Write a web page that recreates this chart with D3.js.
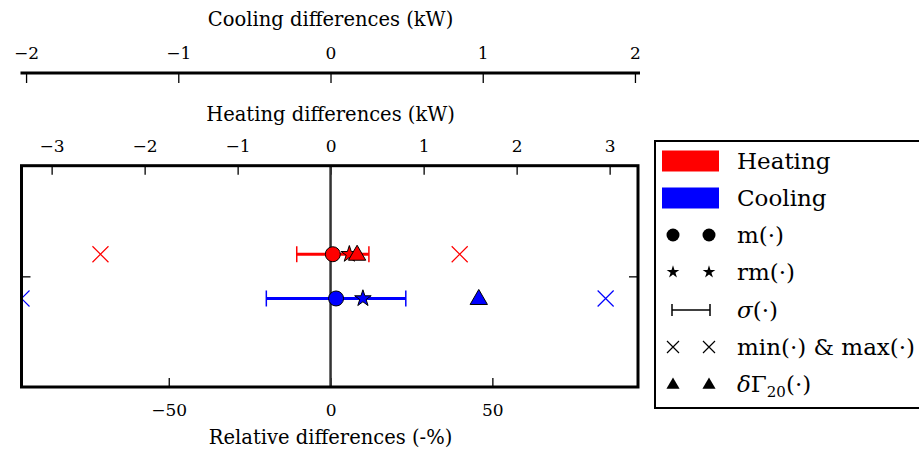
<!DOCTYPE html>
<html><head><meta charset="utf-8">
<script src="https://cdn.jsdelivr.net/npm/d3@7"></script>
<style>
body{margin:0;background:#fff;}
text{font-family:"DejaVu Serif",serif;fill:#000;}
</style></head>
<body><svg id="c" width="919" height="450"></svg>
<script>
// ---- data ----
const categories = ["Heating", "Cooling"];
const colors = ["#ff0000", "#0000ff"];
const rowY = [1, 0];
const meanVals = [0.7, 1.7];
const rmVals = [5.8, 10.0];
const sigmaVals = [11.15, 21.55];
const minVals = [-71.1, -95.5];
const maxVals = [39.9, 85.0];
const deltaVals = [8.2, 45.8];
const relTicks = [-50, 0, 50];
const heatTicks = [-3, -2, -1, 0, 1, 2, 3];
const coolTicks = [-2, -1, 0, 1, 2];
const relDomain = [-95.5, 95];
const heatDomain = [-3.324, 3.305];
const coolDomain = [-2.03, 2.02];
const yDomain = [-2, 3];
const yTicks = [0.5];

const svg = d3.select("#c");
const L = 21.5, R = 638, T = 165.7, B = 387;
const x = d3.scaleLinear().domain(relDomain).range([L, R]);
const xh = d3.scaleLinear().domain(heatDomain).range([L, R]);
const xc = d3.scaleLinear().domain(coolDomain).range([L, R]);
const y = d3.scaleLinear().domain(yDomain).range([B, T]);

const FONT = "DejaVu Serif, serif";
const tickFs = 17, titleFs = 19.5, lfs = 23;
const fmt = d3.format("");
const gb = svg.append("g").attr("transform", `translate(0,${B})`)
  .call(d3.axisBottom(x).tickValues(relTicks).tickSize(-9).tickPadding(17).tickFormat(fmt));
const gh = svg.append("g").attr("transform", `translate(0,${T})`)
  .call(d3.axisTop(xh).tickValues(heatTicks).tickSize(-9).tickPadding(14).tickFormat(fmt));
const gc = svg.append("g").attr("transform", `translate(0,73)`)
  .call(d3.axisBottom(xc).tickValues(coolTicks).tickSize(10).tickFormat(fmt));
gc.selectAll(".tick text").attr("y", -14).attr("dy", "0");
const gl = svg.append("g").attr("transform", `translate(${L},0)`)
  .call(d3.axisLeft(y).tickValues(yTicks).tickSize(-9).tickFormat(""));
const gr = svg.append("g").attr("transform", `translate(${R},0)`)
  .call(d3.axisRight(y).tickValues(yTicks).tickSize(-9).tickFormat(""));
[gb, gh, gc, gl, gr].forEach(g => {
  g.selectAll(".domain").remove();
  g.selectAll(".tick line").attr("stroke", "#000").attr("stroke-width", 1.3);
  g.selectAll(".tick text").attr("font-size", tickFs).attr("font-family", FONT).attr("fill", "#000");
});
gc.append("line").attr("x1", L - 1).attr("x2", R + 2).attr("y1", 0).attr("y2", 0)
  .attr("stroke", "#000").attr("stroke-width", 3);

svg.append("text").attr("x", x(0)).attr("y", 26).attr("text-anchor", "middle").attr("font-size", titleFs).text("Cooling differences (kW)");
svg.append("text").attr("x", x(0)).attr("y", 121).attr("text-anchor", "middle").attr("font-size", titleFs).text("Heating differences (kW)");
svg.append("text").attr("x", x(0)).attr("y", 444).attr("text-anchor", "middle").attr("font-size", titleFs).text("Relative differences (-%)");

svg.append("clipPath").attr("id", "clip").append("rect").attr("x", L).attr("y", T).attr("width", R - L).attr("height", B - T);
const plot = svg.append("g").attr("clip-path", "url(#clip)");

plot.append("line").attr("x1", x(0)).attr("x2", x(0)).attr("y1", T).attr("y2", B)
  .attr("stroke", "#333").attr("stroke-width", 2.5);

const capH = 8;
categories.forEach((c, i) => {
  const cy = y(rowY[i]);
  const col = colors[i];
  [minVals[i], maxVals[i]].forEach(v => {
    const cx = x(v), s = 8;
    plot.append("path").attr("d", `M${cx - s},${cy - s}L${cx + s},${cy + s}M${cx - s},${cy + s}L${cx + s},${cy - s}`)
      .attr("stroke", col).attr("stroke-width", 1.2).attr("fill", "none");
  });
  const x0 = x(meanVals[i] - sigmaVals[i]), x1 = x(meanVals[i] + sigmaVals[i]);
  plot.append("line").attr("x1", x0).attr("x2", x1).attr("y1", cy).attr("y2", cy).attr("stroke", col).attr("stroke-width", 3);
  [x0, x1].forEach(xx => plot.append("line").attr("x1", xx).attr("x2", xx).attr("y1", cy - capH).attr("y2", cy + capH).attr("stroke", col).attr("stroke-width", 1.5));
  plot.append("circle").attr("cx", x(meanVals[i])).attr("cy", cy).attr("r", 7.5).attr("fill", col).attr("stroke", "#000").attr("stroke-width", 1);
  plot.append("path").attr("d", d3.symbol(d3.symbolStar, 85)()).attr("transform", `translate(${x(rmVals[i])},${cy})`)
    .attr("fill", col).attr("stroke", "#000").attr("stroke-width", 1);
  plot.append("path").attr("d", d3.symbol(d3.symbolTriangle, 130)()).attr("transform", `translate(${x(deltaVals[i])},${cy + 1})`)
    .attr("fill", col).attr("stroke", "#000").attr("stroke-width", 1);
});

svg.append("rect").attr("x", L).attr("y", T).attr("width", R - L).attr("height", B - T)
  .attr("fill", "none").attr("stroke", "#000").attr("stroke-width", 3);

// legend
const lg = svg.append("g");
lg.append("rect").attr("x", 655).attr("y", 141).attr("width", 280).attr("height", 267)
  .attr("fill", "#fff").attr("stroke", "#000").attr("stroke-width", 2);
const lx1 = 673, lx2 = 709, tx = 737;
const rows = [161, 198, 235, 272, 310, 347, 384];
categories.forEach((c, i) => {
  lg.append("rect").attr("x", 662).attr("y", rows[i] - 10.5).attr("width", 57).attr("height", 21).attr("fill", colors[i]);
  lg.append("text").attr("x", tx).attr("y", rows[i] + 8).attr("font-size", lfs).text(c);
});
[lx1, lx2].forEach(xx => {
  lg.append("circle").attr("cx", xx).attr("cy", rows[2]).attr("r", 6.5).attr("fill", "#000");
  lg.append("path").attr("d", d3.symbol(d3.symbolStar, 50)()).attr("transform", `translate(${xx},${rows[3]})`).attr("fill", "#000");
  lg.append("path").attr("d", `M${xx - 6},${rows[5] - 6}L${xx + 6},${rows[5] + 6}M${xx - 6},${rows[5] + 6}L${xx + 6},${rows[5] - 6}`).attr("stroke", "#000").attr("stroke-width", 1.2);
  lg.append("path").attr("d", d3.symbol(d3.symbolTriangle, 75)()).attr("transform", `translate(${xx},${rows[6] + 1})`).attr("fill", "#000");
});
lg.append("line").attr("x1", lx1 - 1).attr("x2", lx2 + 1).attr("y1", rows[4]).attr("y2", rows[4]).attr("stroke", "#000").attr("stroke-width", 1.5);
[lx1 - 1, lx2 + 1].forEach(xx => lg.append("line").attr("x1", xx).attr("x2", xx).attr("y1", rows[4] - 6).attr("y2", rows[4] + 6).attr("stroke", "#000").attr("stroke-width", 1.5));
lg.append("text").attr("x", tx).attr("y", rows[2] + 8).attr("font-size", lfs).text("m(·)");
lg.append("text").attr("x", tx).attr("y", rows[3] + 8).attr("font-size", lfs).text("rm(·)");
const ts = lg.append("text").attr("x", tx).attr("y", rows[4] + 8).attr("font-size", lfs);
ts.append("tspan").attr("font-style", "italic").text("σ");
ts.append("tspan").text("(·)");
lg.append("text").attr("x", tx).attr("y", rows[5] + 8).attr("font-size", lfs).text("min(·) & max(·)");
const td = lg.append("text").attr("x", tx).attr("y", rows[6] + 8).attr("font-size", lfs);
td.append("tspan").attr("font-style", "italic").text("δ");
td.append("tspan").text("Γ");
td.append("tspan").attr("font-size", 15).attr("dy", 5).text("20");
td.append("tspan").attr("dy", -5).text("(·)");
</script></body></html>
